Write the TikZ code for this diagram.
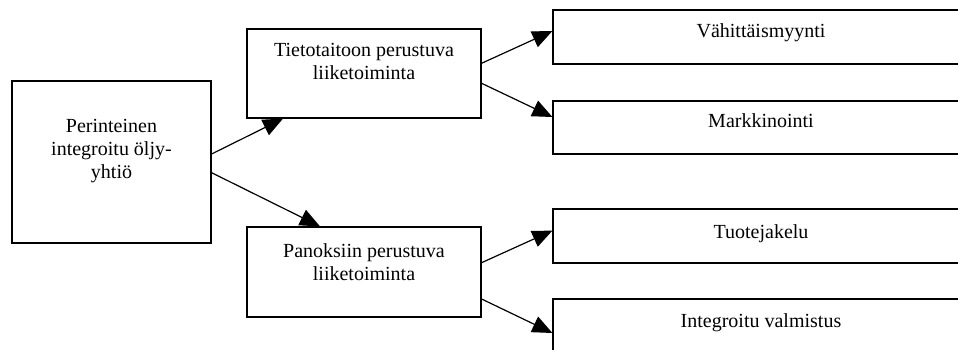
\documentclass[tikz,border=0pt]{standalone}
\usepackage{fontspec}
\setmainfont{Liberation Serif}
\usetikzlibrary{arrows.meta,backgrounds}
\newcommand{\bxtext}[4]{\begin{minipage}[t][#2pt][t]{#1pt}\centering\fontsize{20}{23}\selectfont\rule{0pt}{#3pt}#4\end{minipage}}
\tikzset{
  box/.style={draw, line width=1.2pt, fill=white, inner sep=0pt},
  arr/.style={-{Triangle[length=20pt,width=17pt]}, line width=1.2pt}
}
\begin{document}
\begin{tikzpicture}[x=1pt,y=-1pt]
\useasboundingbox (0,0) rectangle (958,350);
\clip (0,0) rectangle (958,350);
\node[box] (L) at (111.5,162) {\bxtext{199}{162}{51}{Perinteinen\\ integroitu öljy-\\ yhtiö}};
\node[box] (M1) at (364,73.5) {\bxtext{234}{89}{28}{Tietotaitoon perustuva\\ liiketoiminta}};
\node[box] (M2) at (364,272) {\bxtext{234}{90}{30}{Panoksiin perustuva\\ liiketoiminta}};
\node[box] (R1) at (761,37) {\bxtext{416}{54}{28}{Vähittäismyynti}};
\node[box] (R2) at (761,127.5) {\bxtext{416}{53}{27}{Markkinointi}};
\node[box] (R3) at (761,236) {\bxtext{416}{54}{29}{Tuotejakelu}};
\node[box] (R4) at (761,326) {\bxtext{416}{54}{28}{Integroitu valmistus}};
\begin{scope}[on background layer]
\fill[white] (0,0) rectangle (958,350);
\draw[arr] ([yshift=8pt]L.east) -- ([xshift=-81pt]M1.south);
\draw[arr] ([yshift=-10.7pt]L.east) -- ([xshift=-44pt]M2.north);
\draw[arr] ([yshift=10.2pt]M1.east) -- ([yshift=6pt]R1.west);
\draw[arr] ([yshift=-9.8pt]M1.east) -- ([yshift=10.5pt]R2.west);
\draw[arr] ([yshift=9.3pt]M2.east) -- ([yshift=5.4pt]R3.west);
\draw[arr] ([yshift=-27pt]M2.east) -- ([yshift=-7pt]R4.west);
\end{scope}
\end{tikzpicture}
\end{document}
